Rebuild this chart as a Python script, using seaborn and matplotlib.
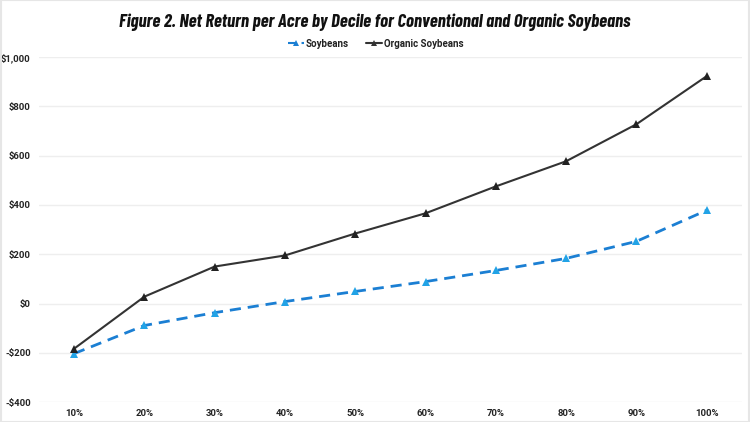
import matplotlib
matplotlib.use("Agg")
import matplotlib.pyplot as plt
import seaborn as sns
import pandas as pd
from matplotlib import font_manager as fm

deciles = ["10%", "20%", "30%", "40%", "50%", "60%", "70%", "80%", "90%", "100%"]
soybeans = [-203, -89, -37, 8, 49, 89, 134, 183, 252, 378]
organic = [-183, 28, 150, 195, 284, 366, 475, 577, 727, 922]
yticks = [-400, -200, 0, 200, 400, 600, 800, 1000]
ytick_labels = ["-$400", "-$200", "$0", "$200", "$400", "$600", "$800", "$1,000"]
title = "Figure 2. Net Return per Acre by Decile for Conventional and Organic Soybeans"

sns.set_theme(style="white")
plt.rcParams["font.family"] = ["Roboto", "DejaVu Sans"]

names = {f.name for f in fm.fontManager.ttflist}
title_font = "DejaVu Sans"
for cand in ["Barlow Condensed", "Saira ExtraCondensed", "Roboto Condensed", "Oswald",
             "IBM Plex Sans Condensed", "Open Sans"]:
    if cand in names:
        title_font = cand
        break

df = pd.DataFrame({
    "Decile": deciles * 2,
    "Return": soybeans + organic,
    "Series": ["Soybeans"] * len(deciles) + ["Organic Soybeans"] * len(deciles),
})

fig = plt.figure(figsize=(7.5, 4.22), dpi=100)
ax = fig.add_axes([0.052, 0.047, 0.937, 0.818])

colors = {"Soybeans": "#1b7fd3", "Organic Soybeans": "#333333"}
sns.lineplot(data=df, x="Decile", y="Return", hue="Series", style="Series",
             palette=colors, dashes={"Soybeans": (4, 2.5), "Organic Soybeans": ""},
             markers={"Soybeans": "^", "Organic Soybeans": "^"},
             markersize=6, markeredgewidth=0, ax=ax, sort=False)
for line, lw in zip(ax.lines, [2.0, 1.5]):
    line.set_linewidth(lw)
ax.lines[0].set_markerfacecolor("#22a3e6")
ax.lines[1].set_markerfacecolor("#222222")

ax.set_xlim(-0.5, 9.5)
ax.set_ylim(-400, 1000)
ax.set_yticks(yticks)
ax.set_yticklabels(ytick_labels)
ax.set_xlabel("")
ax.set_ylabel("")
ax.grid(axis="y", color="#eeeeee", linewidth=1)
ax.set_axisbelow(True)
for s in ax.spines.values():
    s.set_visible(False)
ax.tick_params(axis="y", length=0, labelsize=6.8, pad=6)
ax.tick_params(axis="x", length=0, labelsize=6.8, pad=5)
for lab in ax.get_xticklabels() + ax.get_yticklabels():
    lab.set_fontweight("bold")
    lab.set_color("#222222")

handles, labels = ax.get_legend_handles_labels()
leg = ax.legend(handles=handles, labels=labels, loc="center", bbox_to_anchor=(0.479, 1.038),
                ncol=2, frameon=False, prop={"weight": "bold", "size": 7},
                handlelength=1.6, columnspacing=1.8, handletextpad=0.2)
for t in leg.get_texts():
    t.set_color("#222222")
for h in leg.legend_handles:
    h.set_markersize(4.5)
    h.set_linewidth(1.5)

t = fig.text(0.5, 0.948, title, ha="center", va="center", fontsize=17,
             fontweight="bold", fontstyle="italic",
             family=[title_font, "DejaVu Sans"], color="#111111")
# fit title width to ~512 px
fig.canvas.draw()
w = t.get_window_extent().width
t.set_fontsize(17 * 512.0 / w)

fig.patches.append(plt.Rectangle((0.001, 0.001), 0.998, 0.998, transform=fig.transFigure,
                                 fill=False, edgecolor="#e6e6e6", linewidth=1.5))
fig.savefig("out.png", dpi=100)
